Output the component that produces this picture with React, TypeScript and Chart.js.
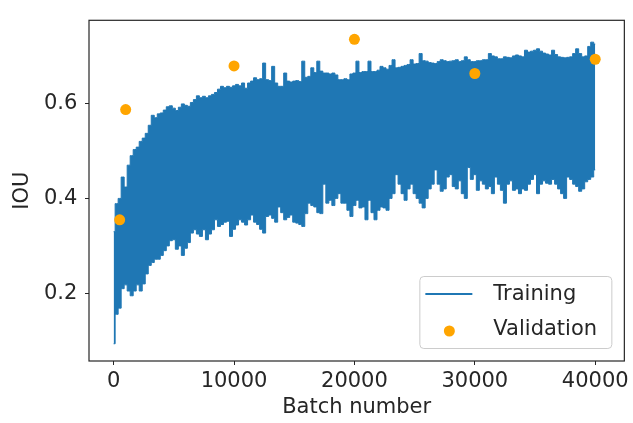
import React, { useEffect, useRef } from "react";
import { Chart, registerables } from "chart.js";

Chart.register(...registerables);

// Training IOU envelope, sampled every BATCH_STEP batches (upper / lower edge of the noisy trace)
const BATCH_STEP = 250;
const trainUpper = [
  0.33, 0.389, 0.4, 0.445, 0.424, 0.47, 0.49, 0.503, 0.508, 0.52,
  0.527, 0.537, 0.554, 0.575, 0.57, 0.578, 0.58, 0.586, 0.593, 0.595,
  0.59, 0.585, 0.592, 0.599, 0.596, 0.594, 0.602, 0.608, 0.616, 0.612,
  0.615, 0.612, 0.616, 0.619, 0.623, 0.63, 0.636, 0.633, 0.636, 0.634,
  0.637, 0.64, 0.637, 0.643, 0.632, 0.643, 0.647, 0.654, 0.65, 0.652,
  0.685, 0.65, 0.648, 0.678, 0.643, 0.636, 0.636, 0.664, 0.647, 0.645,
  0.647, 0.648, 0.646, 0.689, 0.655, 0.657, 0.675, 0.665, 0.689, 0.668,
  0.664, 0.664, 0.662, 0.664, 0.66, 0.65, 0.65, 0.652, 0.65, 0.662,
  0.664, 0.689, 0.665, 0.667, 0.667, 0.689, 0.667, 0.667, 0.67, 0.678,
  0.675, 0.672, 0.68, 0.692, 0.675, 0.676, 0.678, 0.68, 0.682, 0.692,
  0.683, 0.684, 0.705, 0.69, 0.689, 0.686, 0.685, 0.684, 0.688, 0.692,
  0.69, 0.688, 0.689, 0.69, 0.692, 0.688, 0.69, 0.698, 0.692, 0.688,
  0.688, 0.69, 0.69, 0.692, 0.692, 0.705, 0.7, 0.698, 0.694, 0.694,
  0.698, 0.697, 0.696, 0.7, 0.702, 0.7, 0.698, 0.712, 0.708, 0.71,
  0.712, 0.715, 0.71, 0.706, 0.704, 0.702, 0.712, 0.703, 0.698, 0.697,
  0.696, 0.697, 0.698, 0.705, 0.715, 0.705, 0.698, 0.7, 0.72, 0.729,
  0.725,
];
const trainLower = [
  0.094, 0.156, 0.169, 0.21, 0.218, 0.205, 0.195, 0.205, 0.218, 0.205,
  0.22, 0.241, 0.259, 0.265, 0.272, 0.272, 0.28, 0.29, 0.3, 0.311,
  0.313, 0.293, 0.3, 0.28, 0.295, 0.307, 0.327, 0.334, 0.325, 0.32,
  0.334, 0.313, 0.325, 0.334, 0.355, 0.341, 0.345, 0.35, 0.352, 0.32,
  0.335, 0.344, 0.355, 0.35, 0.344, 0.355, 0.365, 0.35, 0.345, 0.335,
  0.327, 0.362, 0.365, 0.358, 0.35, 0.382, 0.37, 0.355, 0.36, 0.365,
  0.35, 0.348, 0.345, 0.341, 0.368, 0.39, 0.385, 0.382, 0.37, 0.368,
  0.43, 0.39, 0.396, 0.385, 0.4, 0.41, 0.39, 0.39, 0.375, 0.362,
  0.385, 0.396, 0.38, 0.382, 0.355, 0.396, 0.37, 0.355, 0.375, 0.382,
  0.38, 0.375, 0.4, 0.41, 0.45, 0.43, 0.41, 0.396, 0.42, 0.43,
  0.41, 0.4, 0.39, 0.38, 0.4, 0.42, 0.43, 0.46, 0.43, 0.415,
  0.42, 0.445, 0.45, 0.425, 0.42, 0.437, 0.41, 0.4, 0.465, 0.44,
  0.45, 0.417, 0.437, 0.43, 0.42, 0.425, 0.41, 0.445, 0.43, 0.417,
  0.39, 0.43, 0.437, 0.417, 0.42, 0.41, 0.42, 0.417, 0.43, 0.44,
  0.45, 0.41, 0.43, 0.437, 0.432, 0.43, 0.44, 0.43, 0.42, 0.41,
  0.4, 0.445, 0.44, 0.43, 0.425, 0.415, 0.42, 0.435, 0.44, 0.445,
  0.46,
];

const validationBatches = [500, 1000, 10000, 20000, 30000, 40000];
const validationIou = [0.355, 0.587, 0.679, 0.735, 0.663, 0.693];

const xTicks = [0, 10000, 20000, 30000, 40000];
const yTicks = [0.2, 0.4, 0.6];

const FONT = "'DejaVu Sans', 'Liberation Sans', sans-serif";
const FONT_SIZE = 21;
const TEXT = "#262626";
const BLUE = "#1f77b4";
const ORANGE = "#ffa500";

export default function App() {
  const ref = useRef<HTMLCanvasElement | null>(null);

  useEffect(() => {
    if (!ref.current) return;
    const upper = trainUpper.map((v, i) => ({ x: i * BATCH_STEP, y: v }));
    const lower = trainLower.map((v, i) => ({ x: i * BATCH_STEP, y: v }));
    const validation = validationBatches.map((b, i) => ({ x: b, y: validationIou[i] }));

    const frameLegend = {
      id: "frameLegend",
      afterDraw(chart: any) {
        const { ctx, chartArea: a } = chart;
        ctx.save();
        // axes frame
        ctx.strokeStyle = TEXT;
        ctx.lineWidth = 1.2;
        ctx.strokeRect(a.left, a.top, a.right - a.left, a.bottom - a.top);

        // legend box (lower right inside axes)
        const bw = 192;
        const bh = 72;
        const bx = a.right - 13 - bw;
        const by = a.bottom - 13 - bh;
        ctx.beginPath();
        if ((ctx as any).roundRect) (ctx as any).roundRect(bx + 0.5, by + 0.5, bw, bh, 4);
        else ctx.rect(bx + 0.5, by + 0.5, bw, bh);
        ctx.fillStyle = "rgba(255,255,255,0.8)";
        ctx.fill();
        ctx.strokeStyle = "#cccccc";
        ctx.lineWidth = 1;
        ctx.stroke();

        const ds = chart.data.datasets;
        // Training entry
        ctx.strokeStyle = BLUE;
        ctx.lineWidth = 2;
        ctx.beginPath();
        ctx.moveTo(bx + 6, by + 18);
        ctx.lineTo(bx + 53, by + 18);
        ctx.stroke();
        // Validation entry
        ctx.fillStyle = ORANGE;
        ctx.beginPath();
        ctx.arc(bx + 30, by + 55, 5.5, 0, Math.PI * 2);
        ctx.fill();

        ctx.fillStyle = TEXT;
        ctx.font = `${FONT_SIZE}px ${FONT}`;
        ctx.textBaseline = "alphabetic";
        ctx.textAlign = "left";
        ctx.fillText(ds[0].label, bx + 74, by + 23.5);
        ctx.fillText(ds[2].label, bx + 74, by + 58.5);
        ctx.restore();
      },
    };

    const tickFont = { family: FONT, size: FONT_SIZE };

    const chart = new Chart(ref.current, {
      type: "line",
      data: {
        datasets: [
          {
            label: "Training",
            data: upper,
            borderColor: BLUE,
            backgroundColor: BLUE,
            borderWidth: 1,
            pointRadius: 0,
            stepped: "middle",
            fill: "+1",
            order: 2,
          },
          {
            label: "Training (lower)",
            data: lower,
            borderColor: BLUE,
            backgroundColor: BLUE,
            borderWidth: 1,
            pointRadius: 0,
            stepped: "middle",
            fill: false,
            order: 2,
          },
          {
            type: "scatter",
            label: "Validation",
            data: validation,
            backgroundColor: ORANGE,
            borderColor: ORANGE,
            borderWidth: 0,
            pointRadius: 5.5,
            showLine: false,
            order: 0,
          } as any,
        ],
      },
      options: {
        responsive: false,
        animation: false,
        devicePixelRatio: 1,
        layout: { padding: { top: 13, right: 7, left: 0, bottom: 0 } },
        plugins: {
          legend: { display: false },
          tooltip: { enabled: false },
        },
        scales: {
          x: {
            type: "linear",
            min: -2046,
            max: 42420,
            afterBuildTicks: (s: any) => {
              s.ticks = xTicks.map((v) => ({ value: v }));
            },
            afterFit: (s: any) => {
              s.height = 62;
            },
            ticks: {
              font: tickFont,
              color: TEXT,
              padding: 4,
              maxRotation: 0,
              autoSkip: false,
              callback: (v: any) => String(v),
            },
            grid: {
              display: true,
              drawOnChartArea: false,
              drawTicks: true,
              tickLength: 4,
              color: TEXT,
              tickColor: TEXT,
            },
            border: { display: false },
            title: {
              display: true,
              text: "Batch number",
              font: tickFont,
              color: TEXT,
              padding: { top: 0, bottom: 2.4 },
            },
          },
          y: {
            type: "linear",
            min: 0.0577,
            max: 0.775,
            afterBuildTicks: (s: any) => {
              s.ticks = yTicks.map((v) => ({ value: v }));
            },
            afterFit: (s: any) => {
              s.width = 89;
            },
            ticks: {
              font: tickFont,
              color: TEXT,
              padding: 7.7,
              autoSkip: false,
              callback: (v: any) => Number(v).toFixed(1),
            },
            grid: {
              display: true,
              drawOnChartArea: false,
              drawTicks: true,
              tickLength: 4,
              color: TEXT,
              tickColor: TEXT,
            },
            border: { display: false },
            title: {
              display: true,
              text: "IOU",
              font: tickFont,
              color: TEXT,
              padding: { top: 9.9, bottom: 0 },
            },
          },
        },
      },
      plugins: [frameLegend],
    } as any);

    return () => chart.destroy();
  }, []);

  return (
    <div style={{ position: "fixed", left: 0, top: 0, width: 633, height: 423, background: "#fff" }}>
      <canvas ref={ref} width={633} height={423} style={{ display: "block", width: 633, height: 423 }} />
    </div>
  );
}
